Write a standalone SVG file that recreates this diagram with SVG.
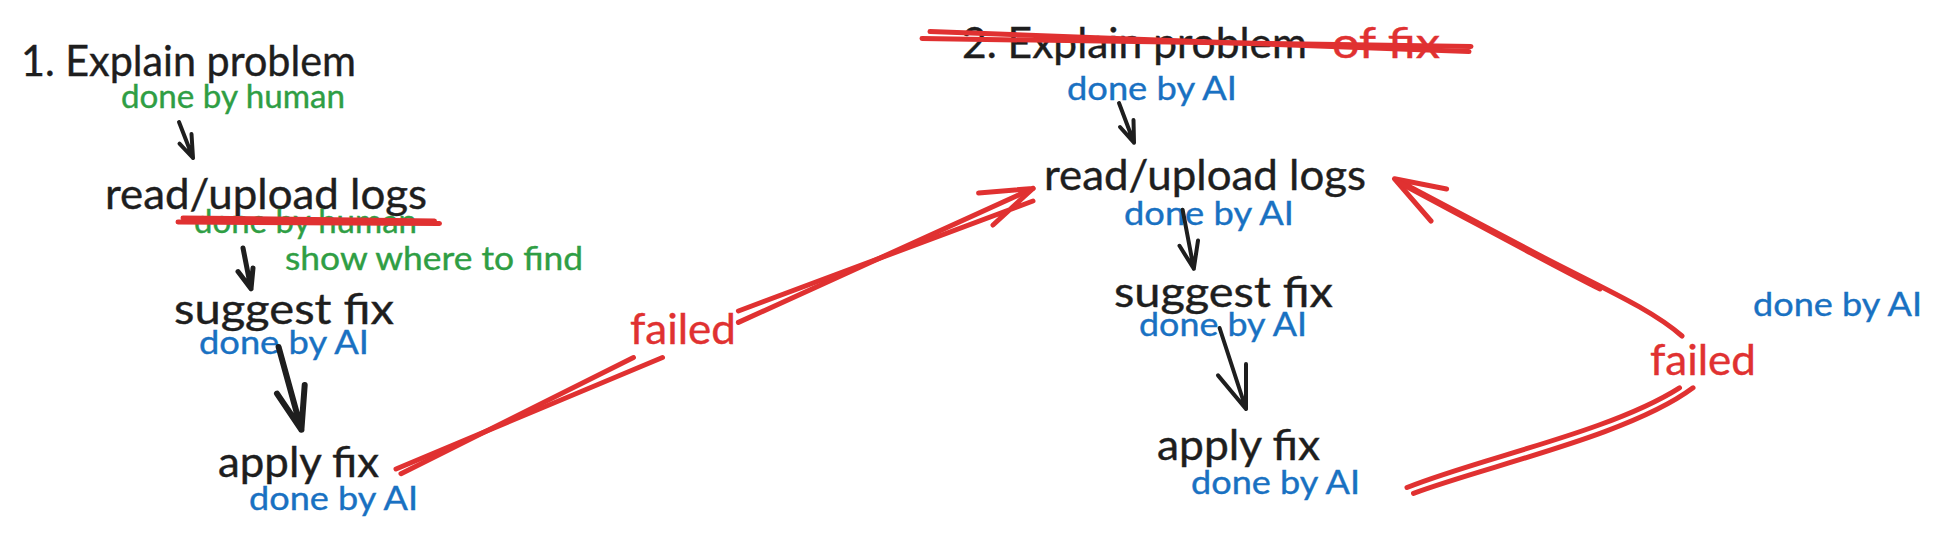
<svg xmlns="http://www.w3.org/2000/svg" width="1943" height="539" viewBox="0 0 1943 539">
<style>
text{font-family:"Lato","Noto Sans",sans-serif;stroke-width:.4;}
.m{font-size:42px;fill:#1e1e1e;stroke:#1e1e1e;}
.s{font-size:33px;}
.g{fill:#2f9e44;stroke:#2f9e44;}
.b{fill:#1971c2;stroke:#1971c2;}
.m.r{fill:#e03131;stroke:#e03131;}
.k,.h,.rl,.st{fill:none;stroke-linecap:round;stroke-linejoin:round;}
.k{stroke:#1e1e1e;stroke-width:4;}
.h{stroke:#1e1e1e;stroke-width:5;}
.rl{stroke:#e03131;stroke-width:5;}
.st{stroke:#e03131;stroke-width:5;}
</style>
<rect width="1943" height="539" fill="#ffffff"/>
<g id="node-explain-1"><text class="m" x="21" y="76" textLength="335" lengthAdjust="spacingAndGlyphs">1. Explain problem</text><text class="s g" x="121" y="108" textLength="224" lengthAdjust="spacingAndGlyphs">done by human</text></g>
<g id="node-read-1"><text class="m" x="105" y="209" textLength="322" lengthAdjust="spacingAndGlyphs">read/upload logs</text><text class="s g" x="194" y="233" textLength="223" lengthAdjust="spacingAndGlyphs">done by human</text><text class="s g" x="285" y="270" textLength="298" lengthAdjust="spacingAndGlyphs">show where to find</text></g>
<g id="node-suggest-1"><text class="m" x="174" y="324" textLength="220" lengthAdjust="spacingAndGlyphs">suggest fix</text><text class="s b" x="199" y="354" textLength="170" lengthAdjust="spacingAndGlyphs">done by AI</text></g>
<g id="node-apply-1"><text class="m" x="218" y="477" textLength="161" lengthAdjust="spacingAndGlyphs">apply fix</text><text class="s b" x="249" y="510" textLength="169" lengthAdjust="spacingAndGlyphs">done by AI</text></g>
<g id="label-failed-1"><text class="m r" x="630" y="344" textLength="106" lengthAdjust="spacingAndGlyphs">failed</text></g>
<g id="node-explain-2"><text class="m" x="962" y="58" textLength="345" lengthAdjust="spacingAndGlyphs">2. Explain problem</text><text class="m r" x="1332" y="58" textLength="108" lengthAdjust="spacingAndGlyphs">of fix</text><text class="s b" x="1067" y="100" textLength="170" lengthAdjust="spacingAndGlyphs">done by AI</text></g>
<g id="node-read-2"><text class="m" x="1044" y="190" textLength="322" lengthAdjust="spacingAndGlyphs">read/upload logs</text><text class="s b" x="1124" y="225" textLength="170" lengthAdjust="spacingAndGlyphs">done by AI</text></g>
<g id="node-suggest-2"><text class="m" x="1114" y="307" textLength="219" lengthAdjust="spacingAndGlyphs">suggest fix</text><text class="s b" x="1139" y="336" textLength="168" lengthAdjust="spacingAndGlyphs">done by AI</text></g>
<g id="node-apply-2"><text class="m" x="1157" y="460" textLength="163" lengthAdjust="spacingAndGlyphs">apply fix</text><text class="s b" x="1191" y="494" textLength="169" lengthAdjust="spacingAndGlyphs">done by AI</text></g>
<g id="label-failed-2"><text class="m r" x="1650" y="375" textLength="106" lengthAdjust="spacingAndGlyphs">failed</text></g>
<g id="label-done-ai"><text class="s b" x="1753" y="316" textLength="169" lengthAdjust="spacingAndGlyphs">done by AI</text></g>
<g id="connectors">
<path class="k" d="M179 122L193 158M179.500 143.700L193 158M191.500 134L193 158"/>
<path class="h" d="M243 248L251 288.800M238 271.600L251 288.800M253 268L251 288.800"/>
<path class="h" style="stroke-width:6" d="M278.600 347L301.400 429.700M277 393.600L301.400 429.700M304.700 385L301.400 429.700"/>
<path class="k" d="M1119 103L1134 142.700M1120 127L1134 142.700M1133.500 120L1134 142.700"/>
<path class="k" d="M1182.600 209.700L1193.800 268.800M1179.500 245.800L1193.800 268.800M1198 240.600L1193.800 268.800"/>
<path class="k" d="M1219.600 328L1246 409M1218 375.400L1246 409M1246 364L1246 409"/>
<path class="rl" d="M396 469L662.500 357.500M738.400 322.400L1033 188.400M978.600 193L1033 188.400"/>
<path class="rl" d="M401 473.700L633.500 357.500M738.400 311L1033 201M993 225L1033 188.400"/>
<path class="rl" d="M1407 487.500C1480 458 1610 432 1679.500 387.800"/>
<path class="rl" d="M1413.500 493.300C1490 465 1630 435 1693 387.800"/>
<path class="rl" d="M1682 336C1650 308 1600 287 1537 254C1490 229 1440 203 1394.500 178.800M1446.600 189L1394.500 178.800L1431 221"/>
<path class="rl" d="M1600 289C1565 272 1490 231 1398 182"/>
<path class="st" d="M178 222L439.500 223.400"/>
<path class="st" d="M183 218L434.500 221"/>
<path class="st" d="M922 38.500L1471 46.400"/>
<path class="st" d="M930 31.600L1469 51.600"/>
</g>
</svg>
